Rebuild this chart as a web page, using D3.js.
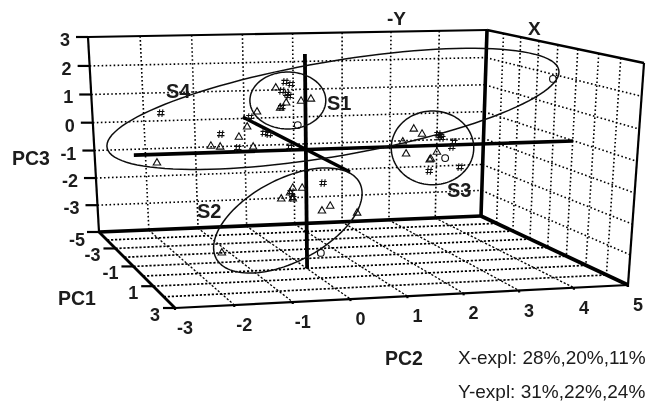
<!DOCTYPE html>
<html>
<head>
<meta charset="utf-8">
<script src="https://cdn.jsdelivr.net/npm/d3@7"></script>
<style>
  html, body { margin: 0; background: #fff; }
  text { font-family: "Liberation Sans", Arial, sans-serif; fill: #1a1a1a; }
</style>
</head>
<body>
<svg id="chart" width="651" height="401"></svg>
<script>
// tick labels
const pc2Ticks = [-3, -2, -1, 0, 1, 2, 3, 4, 5];
const pc1Ticks = [-3, -1, 1, 3];
const pc1Grid = [-4, -3, -2, -1, 0, 1, 2];
const pc3Ticks = [3, 2, 1, 0, -1, -2, -3, -5]; // the original really skips -4

// samples as [PC2, PC3]
const triangles = [
  [-2.71, -0.43], [-1.73, 0.13], [-1.56, 0.10], [-1.22, 0.43], [-0.96, 0.10], [-1.07, 0.77],
  [-0.89, 1.27], [-0.55, 2.07], [-0.36, 1.57], [-0.47, 1.40], [-0.09, 1.63], [0.09, 1.70],
  [1.96, 0.70], [2.11, 0.53], [1.76, 0.27], [1.82, -0.13], [2.38, -0.07], [2.25, -0.33], [2.27, -0.30],
  [-0.45, -1.63], [-0.24, -1.27], [-0.29, -1.43], [-0.24, -1.63], [-0.07, -1.27],
  [0.29, -2.03], [0.44, -1.87], [0.93, -2.10], [-1.53, -3.43]
];
const hashes = [
  [-2.64, 1.23], [-1.55, 0.53], [-1.24, 0.07], [-1.02, 1.10], [-0.76, 0.57], [-0.67, 0.53],
  [-0.38, 2.27], [-0.27, 2.20], [-0.44, 1.97], [-0.35, 1.87], [-0.31, 1.80], [-0.44, 1.43], [-0.29, 0.10],
  [2.44, 0.47], [2.47, 0.40], [2.40, 0.53], [2.69, 0.27], [2.65, 0.10], [2.24, -0.70], [2.80, -0.57],
  [-0.27, -1.40], [-0.24, -1.60], [0.31, -1.10]
];
const circles = [[-0.15, 0.83], [4.49, 2.37], [2.53, -0.27], [0.27, -3.43]];

// group ellipses: name, centre, half width, half height, slope of the long axis
const groupNames = ['S1', 'S2', 'S3', 'S4'];
const groupCenters = [[-0.33, 1.65], [-0.33, -2.35], [2.3, 0.07], [0.49, 1.37]];
const groupWidths = [0.69, 1.35, 0.75, 4.11];
const groupHeights = [0.95, 1.5, 1.23, 1.6];
const groupSlopes = [0, 0.67, 0, 0.3];

// the three heavy axes through the origin
const axisLines = [
  [[-3.13, -0.17], [4.85, 0.3]],
  [[-0.02, 3.2], [0.02, -3.93]],
  [[-1.15, 1.1], [0.8, -0.73]]
];
const axisWidths = [3.6, 3.8, 3.4];

const explained = ['X-expl: 28%,20%,11%', 'Y-expl: 31%,22%,24%'];

const svg = d3.select('#chart');
const defs = svg.append('defs');
defs.append('filter').attr('id', 'soft')
  .attr('filterUnits', 'userSpaceOnUse')
  .attr('x', 0).attr('y', 0)
  .attr('width', 651).attr('height', 401)
  .append('feGaussianBlur').attr('stdDeviation', 0.35);
const root = svg.append('g').attr('filter', 'url(#soft)');

// square to quad perspective map, corners go round in order
function quadMap(p0, p1, p2, p3) {
  const dx1 = p1[0] - p2[0], dx2 = p3[0] - p2[0], sx = p0[0] - p1[0] + p2[0] - p3[0];
  const dy1 = p1[1] - p2[1], dy2 = p3[1] - p2[1], sy = p0[1] - p1[1] + p2[1] - p3[1];
  const den = dx1 * dy2 - dx2 * dy1;
  const g = (sx * dy2 - dx2 * sy) / den;
  const h = (dx1 * sy - sx * dy1) / den;
  const a = p1[0] - p0[0] + g * p1[0], b = p3[0] - p0[0] + h * p3[0];
  const d = p1[1] - p0[1] + g * p1[1], e = p3[1] - p0[1] + h * p3[1];
  return (u, v) => {
    const w = g * u + h * v + 1;
    return [(a * u + b * v + p0[0]) / w, (d * u + e * v + p0[1]) / w];
  };
}

const backTL = [88, 37], backTR = [487, 30], backBL = [99, 232], backBR = [481, 216];
const sideTR = [644, 63], sideBR = [628, 285], floorFL = [175, 308];

const backWall = quadMap(backTL, backTR, backBR, backBL);
const sideWall = quadMap(backTR, sideTR, sideBR, backBR);
const floor = quadMap(backBL, backBR, sideBR, floorFL);

const uPc2 = d3.scaleLinear().domain([-3, 5]).range([0, 1]);
const uPc1 = d3.scaleLinear().domain([-5, 3]).range([0, 1]);
const vPc3 = d3.scalePoint().domain(pc3Ticks).range([0, 1]);

// flat view plane for the samples, origin where the heavy axes cross
const x = d3.scaleLinear().domain([-3, 5]).range([141, 581]);
const y = d3.scaleLinear().domain([-4, 3]).range([270, 60]);

const line = d3.line();
const seg = (a, b, width, dash) => root.append('path')
  .attr('d', line([a, b]))
  .attr('fill', 'none')
  .attr('stroke', '#000')
  .attr('stroke-width', width)
  .attr('stroke-dasharray', dash || null);

// dotted grids
const wallDash = '1.6,2.4', floorDash = '2.2,1.8';
pc2Ticks.slice(1, -1).forEach(t => {
  seg(backWall(uPc2(t), 0), backWall(uPc2(t), 1), 1.6, wallDash);
  seg(floor(uPc2(t), 0), floor(uPc2(t), 1), 1.3, floorDash);
});
pc3Ticks.slice(1, -1).forEach(t => {
  seg(backWall(0, vPc3(t)), backWall(1, vPc3(t)), 1.6, wallDash);
  seg(sideWall(0, vPc3(t)), sideWall(1, vPc3(t)), 1.6, wallDash);
});
pc1Grid.forEach(t => {
  seg(floor(0, uPc1(t)), floor(1, uPc1(t)), 1.7, floorDash);
  seg(sideWall(uPc1(t), 0), sideWall(uPc1(t), 1), 1.6, wallDash);
});

// frame
seg(backTL, backTR, 2.2);
seg(backTL, backBL, 2.2);
seg(backTR, backBR, 3.6);
seg(backBL, backBR, 3.6);
seg(backTR, sideTR, 2.6);
seg(sideTR, sideBR, 2.2);
seg(backBR, sideBR, 3.8);
seg(backBL, floorFL, 2.8);
seg(floorFL, sideBR, 2.2);

// ticks and their labels
const tickLabel = (p, s, anchor) => root.append('text')
  .attr('x', p[0]).attr('y', p[1])
  .attr('text-anchor', anchor)
  .attr('font-size', 18).attr('font-weight', 'bold')
  .text(s);

pc3Ticks.forEach(t => {
  const p = backWall(0, vPc3(t));
  seg([p[0] - 12, p[1]], p, 2.2);
  const low = t === -5;
  tickLabel([p[0] - (low ? 14 : 18), p[1] + (low ? 14 : 9)], t, 'end');
});
pc1Ticks.forEach(t => {
  const p = floor(0, uPc1(t));
  seg([p[0] - 12, p[1]], p, 2.2);
  tickLabel([p[0] - 15, p[1] + 13], t, 'end');
});
pc2Ticks.forEach(t => {
  const p = floor(uPc2(t), 1);
  seg(p, [p[0], p[1] + 2], 2.2);
  tickLabel([p[0] + 10, p[1] + 26], t, 'middle');
});

// heavy axes
axisLines.forEach((a, i) => seg(a[0].map((v, k) => (k ? y(v) : x(v))), a[1].map((v, k) => (k ? y(v) : x(v))), axisWidths[i]));

// group ellipses
const tSteps = d3.range(0, 2 * Math.PI, Math.PI / 60);
groupNames.forEach((name, i) => {
  const [cx, cy] = groupCenters[i];
  const pts = tSteps.map(t => {
    const dx = groupWidths[i] * Math.cos(t);
    return [x(cx + dx), y(cy + groupSlopes[i] * dx + groupHeights[i] * Math.sin(t))];
  });
  root.append('path')
    .attr('d', d3.line().curve(d3.curveLinearClosed)(pts))
    .attr('fill', 'none')
    .attr('stroke', '#111')
    .attr('stroke-width', 1.5);
});

// hash marks, d3 has no symbol for it
const hashSymbol = {
  draw(ctx, size) {
    const r = Math.sqrt(size) / 2, g = r * 0.42;
    ctx.moveTo(-g + 0.5, -r); ctx.lineTo(-g - 0.5, r);
    ctx.moveTo(g + 0.5, -r); ctx.lineTo(g - 0.5, r);
    ctx.moveTo(-r, -g); ctx.lineTo(r, -g);
    ctx.moveTo(-r, g); ctx.lineTo(r, g);
  }
};
const marks = (data, type, size) => root.append('g').selectAll('path')
  .data(data).enter().append('path')
  .attr('transform', d => `translate(${x(d[0])},${y(d[1])})`)
  .attr('d', d3.symbol().type(type).size(size))
  .attr('fill', 'none')
  .attr('stroke', '#111')
  .attr('stroke-width', 1.1);

marks(triangles, d3.symbolTriangle, 24);
marks(hashes, hashSymbol, 56);
marks(circles, d3.symbolCircle, 36);

// titles
const title = (px, py, s, size, weight) => root.append('text')
  .attr('x', px).attr('y', py)
  .attr('font-size', size).attr('font-weight', weight || 'bold')
  .text(s);

title(12, 165, 'PC3', 19.5);
title(58, 305, 'PC1', 19.5);
title(385, 365, 'PC2', 19.5);
title(387, 25, '-Y', 19);
title(528, 35, 'X', 19);
title(166, 98, 'S4', 20);
title(327, 110, 'S1', 20);
title(447, 197, 'S3', 20);
title(197, 218, 'S2', 20);
explained.forEach((s, i) => title(458, 364 + i * 34, s, 19, 'normal'));
</script>
</body>
</html>
